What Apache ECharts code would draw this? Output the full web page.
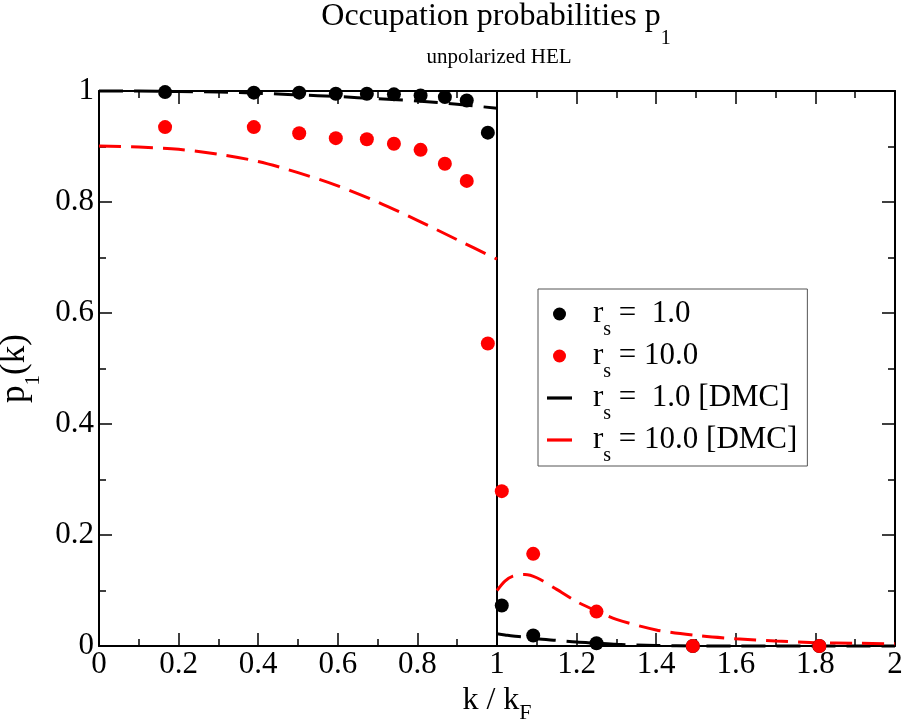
<!DOCTYPE html>
<html>
<head>
<meta charset="utf-8">
<script src="https://cdn.jsdelivr.net/npm/echarts@6/dist/echarts.min.js"></script>
<style>html,body{margin:0;padding:0;background:#fff;}#c{width:905px;height:723px;}</style>
</head>
<body>
<div id="c"></div>
<script>
// ---- data ----
var kPoints = [0.166, 0.389, 0.503, 0.595, 0.673, 0.741, 0.808, 0.869, 0.924, 0.977, 1.012, 1.091, 1.250, 1.492, 1.810];
var rs1Values = [0.998, 0.997, 0.997, 0.995, 0.995, 0.994, 0.992, 0.989, 0.983, 0.925, 0.073, 0.019, 0.005, 0.0, 0.0];
var rs10Values = [0.935, 0.935, 0.924, 0.915, 0.913, 0.905, 0.894, 0.869, 0.838, 0.545, 0.279, 0.166, 0.062, 0.0, 0.0];

var dmcKLeft = [0.0, 0.1, 0.2, 0.3, 0.4, 0.5, 0.6, 0.7, 0.8, 0.9, 1.0];
var dmc1Left = [1.0, 1.0, 0.999, 0.998, 0.996, 0.993, 0.990, 0.986, 0.982, 0.976, 0.969];
var dmc10Left = [0.901, 0.899, 0.895, 0.886, 0.873, 0.853, 0.829, 0.800, 0.767, 0.732, 0.697];

var dmcKRight = [1.0, 1.02, 1.04, 1.07, 1.1, 1.15, 1.2, 1.25, 1.3, 1.4, 1.5, 1.6, 1.7, 1.8, 1.9, 2.0];
var dmc1Right = [0.022, 0.020, 0.018, 0.016, 0.013, 0.010, 0.007, 0.005, 0.003, 0.001, 0.0, 0.0, 0.0, 0.0, 0.0, 0.0];
var dmc10Right = [0.100, 0.117, 0.126, 0.129, 0.123, 0.102, 0.080, 0.063, 0.048, 0.029, 0.019, 0.013, 0.009, 0.006, 0.005, 0.004];

var fermiK = [1.0, 1.0];
var fermiY = [0.0, 1.0];

var seriesNames = ['r_s =  1.0', 'r_s = 10.0', 'r_s =  1.0 [DMC]', 'r_s = 10.0 [DMC]'];

function zip(xs, ys) { return xs.map(function (x, i) { return [x, ys[i]]; }); }
function branches(xl, yl, xr, yr) { return zip(xl, yl).concat([[null, null]]).concat(zip(xr, yr)); }

var FONT = 'Liberation Serif';
var chart = echarts.init(document.getElementById('c'), null, { renderer: 'canvas' });

function fmt(v) { return String(+v.toFixed(1)); }

var axisCommon = {
  type: 'value', min: 0, interval: 0.2,
  axisLine: { show: true, onZero: false, lineStyle: { color: '#000', width: 2 } },
  axisTick: { show: true, inside: true, length: 13, lineStyle: { color: '#000', width: 1.5 } },
  minorTick: { show: true, splitNumber: 2, length: 7, lineStyle: { color: '#000', width: 1.5 } },
  splitLine: { show: false },
  minorSplitLine: { show: false }
};
function ax(extra) { return Object.assign({}, JSON.parse(JSON.stringify(axisCommon)), extra); }

function richPair(mainSize, lineH, subSize, subPad, color, key) {
  var r = {};
  r.m = { fontFamily: FONT, fontSize: mainSize, lineHeight: lineH, verticalAlign: 'middle' };
  r.s = { fontFamily: FONT, fontSize: subSize, lineHeight: 1, verticalAlign: 'top', padding: [subPad, 0, 0, 0] };
  r.m[key] = color; r.s[key] = color;
  return r;
}

var lineIcon = 'path://M0,0L25,0L25,3.2L0,3.2Z';

var option = {
  animation: false,
  backgroundColor: '#fff',
  grid: { left: 99, right: 10, top: 91, bottom: 77, containLabel: false, outerBoundsMode: 'none' },
  graphic: [
    { type: 'text', x: 496, y: 1, style: { text: '{m|Occupation probabilities p}{s|1}', align: 'center', verticalAlign: 'top',
      rich: richPair(32, 32, 20, 28, '#000', 'fill') } },
    { type: 'text', x: 499, y: 57, style: { text: 'unpolarized HEL', align: 'center', verticalAlign: 'middle', fontFamily: FONT, fontSize: 21, fill: '#000' } }
  ],
  xAxis: [
    ax({ max: 2, position: 'bottom',
      axisLabel: { show: true, color: '#000', fontFamily: FONT, fontSize: 31, margin: 3, formatter: fmt },
      name: '{m|k / k}{s|F}', nameLocation: 'middle', nameGap: 35,
      nameTextStyle: { rich: richPair(32, 32, 22, 17, '#000', 'color') } }),
    ax({ max: 2, position: 'top', axisLabel: { show: false } })
  ],
  yAxis: [
    ax({ max: 1, position: 'left',
      axisLabel: { show: true, color: '#000', fontFamily: FONT, fontSize: 31, margin: 5, formatter: fmt },
      name: '{m|p}{s|1}{m|(k)}', nameLocation: 'middle', nameGap: 52, nameRotate: 90,
      nameTextStyle: { rich: richPair(35, 32, 21, 25, '#000', 'color') } }),
    ax({ max: 1, position: 'right', axisLabel: { show: false } })
  ],
  legend: {
    orient: 'vertical', left: 538, top: 289,
    backgroundColor: '#fff', borderColor: '#555', borderWidth: 1,
    padding: [9, 10, 0, 9], itemGap: 0, itemWidth: 25, itemHeight: 13,
    itemStyle: { borderWidth: 0, borderType: 'solid' },
    lineStyle: { type: 'solid' },
    data: [
      { name: seriesNames[0], icon: 'circle' },
      { name: seriesNames[1], icon: 'circle' },
      { name: seriesNames[2], icon: lineIcon, itemStyle: { color: '#000', borderWidth: 0 } },
      { name: seriesNames[3], icon: lineIcon, itemStyle: { color: '#f00', borderWidth: 0 } }
    ],
    formatter: function (n) { return '{m|r}{s|s}{m|' + n.slice(3) + '}'; },
    textStyle: {
      padding: [0, 0, 0, 16],
      rich: {
        m: { fontFamily: FONT, fontSize: 31, color: '#000', lineHeight: 32, verticalAlign: 'middle' },
        s: { fontFamily: FONT, fontSize: 20, color: '#000', lineHeight: 1, verticalAlign: 'top', padding: [22, 0, 0, 0] }
      }
    }
  },
  series: [
    { name: 'fermi', type: 'line', data: zip(fermiK, fermiY), symbol: 'none', silent: true,
      lineStyle: { color: '#000', width: 2 }, z: 2 },
    { name: seriesNames[2], type: 'line', data: branches(dmcKLeft, dmc1Left, dmcKRight, dmc1Right),
      symbol: 'none', showSymbol: false, connectNulls: false, smooth: 0.3, clip: false,
      itemStyle: { color: '#000' }, lineStyle: { color: '#000', width: 3, type: [24, 11] }, z: 3 },
    { name: seriesNames[3], type: 'line', data: branches(dmcKLeft, dmc10Left, dmcKRight, dmc10Right),
      symbol: 'none', showSymbol: false, connectNulls: false, smooth: 0.3, clip: false,
      itemStyle: { color: '#f00' }, lineStyle: { color: '#f00', width: 3, type: [22, 10] }, z: 3 },
    { name: seriesNames[0], type: 'scatter', data: zip(kPoints, rs1Values), symbol: 'circle', symbolSize: 14,
      clip: false, itemStyle: { color: '#000', opacity: 1 }, z: 4 },
    { name: seriesNames[1], type: 'scatter', data: zip(kPoints, rs10Values), symbol: 'circle', symbolSize: 14,
      clip: false, itemStyle: { color: '#f00', opacity: 1 }, z: 5 }
  ]
};
chart.setOption(option);
</script>
</body>
</html>
